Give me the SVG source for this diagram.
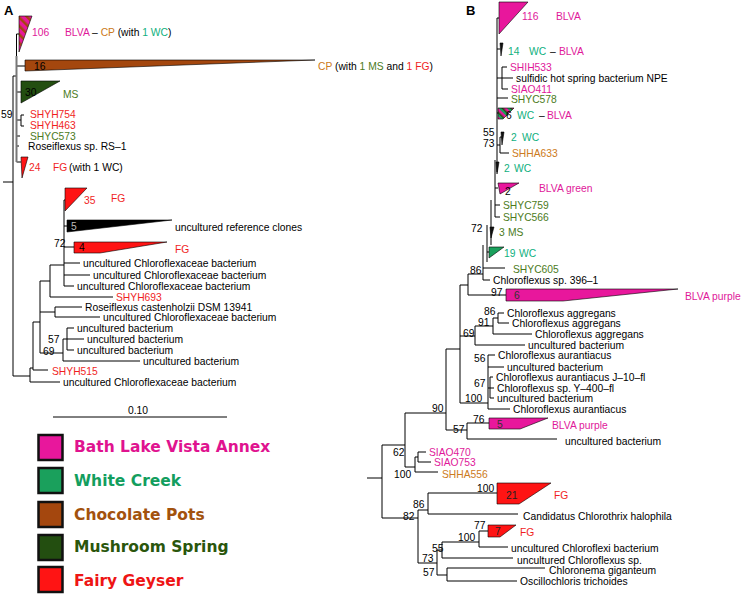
<svg xmlns="http://www.w3.org/2000/svg" width="744" height="595" viewBox="0 0 744 595">
<defs>
<pattern id="hA" patternUnits="userSpaceOnUse" width="6" height="6" patternTransform="rotate(-45)">
<rect width="6" height="6" fill="#e8179c"/><rect width="2.5" height="6" fill="#a4470e"/>
</pattern>
<pattern id="hB" patternUnits="userSpaceOnUse" width="6" height="6" patternTransform="rotate(-45)">
<rect width="6" height="6" fill="#e8179c"/><rect width="2" height="6" fill="#1aa05c"/><rect x="2" width="1.5" height="6" fill="#234e10"/>
</pattern>
<style>
text{font-family:"Liberation Sans",Arial,sans-serif;font-size:10.3px;fill:#000}
.m{fill:#e0189a}.r{fill:#f01e1e}.g{fill:#0fb07e}.ms{fill:#4b7b1b}.o{fill:#cc7a20}.k{fill:#000}
.lab{font-weight:bold;font-size:13px}
.lg{font-family:"DejaVu Sans",Verdana,sans-serif;font-weight:bold;font-size:15.5px}
.br{fill:none;stroke:#000;stroke-width:1}
.tri{stroke:#000;stroke-width:0.6}
.box{stroke:#111;stroke-width:2.5}
</style>
</defs>
<rect width="744" height="595" fill="#fff"/>
<g id="connectors">
<path class="br" d="M3,182H13M13,76V376M13,76H16.5M16.5,34V66M16.5,34H19M16.5,66H25M16.5,92H21M16.5,120H21M21,115V126M21,115H24M21,126H24M16.5,136H20M16.5,146H19M16.5,162H21"/>
<path d="M16.5,56V162" fill="none" stroke="#777" stroke-width="2"/>
<path class="br" d="M13,376H30M30,368V382M30,382H60M30,368H33M33,322V370M33,370H48M33,322H40M40,281V353M40,281H50M50,265V297M50,297H113M50,265H64M64,200V286M64,200H65M64,226H67M64,247H74M64,263H80M64,275H90M64,286H74M40,312H55M55,307V317M55,307H82M55,317H100M40,353H63M63,339V361M63,361H140M63,339H67M67,328V350M67,328H74M67,339H84M67,350H74"/>
<path class="br" d="M497,18V172M497,18H499M497,49H500M497,78H502M502,67V89M502,67H507M502,78H513M502,89H508M497,98H508M497,113H498M497,145H500M500,137V153M500,137H502M500,153H509M495,160V217M495,188H498M495,205H500M495,217H500M491,200V245M491,232H491M487,225V262M487,252H489M483,245V280M483,268H505M483,280H490M468,274H483M460,285H468M468,274V295M468,295H506M460,285V403M460,336H475M475,326V345M475,326H493M493,318V334M493,318H498M498,313V323M498,313H504M498,323H509M493,334H532M475,345H525M460,403H488M488,355V409M488,355H495M488,367H504M488,388H490M490,377V398M490,377H493M490,388H494M490,398H494M488,409H510M446,349V430M446,349H460M405,413H446M446,430H467M467,423V439M467,423H489M467,439H557M405,413V467M382,445H405M405,467H415M415,457V472M415,457H418M418,452V462M418,452H426M418,462H431M415,472H438M367,478H382M382,445V518M382,518H418M418,510V563M418,510H428M428,493V514M428,493H497M428,514H518M418,563H437M437,550V575M437,550H442M442,542V558M442,542H479M479,531V547M479,531H488M479,547H508M442,558H513M437,575H447M447,568V581M447,568H545M447,581H517"/>
</g>
<text class="lab" x="4" y="15">A</text>
<text class="lab" x="466" y="15">B</text>
<g id="a-blva-cp"><polygon class="tri" points="19,16 32,16 19,52" fill="url(#hA)"/><text x="32" y="36" class="m">106</text><text x="65" y="36"><tspan class="m">BLVA</tspan> – <tspan class="o">CP</tspan> (with <tspan class="g">1 WC</tspan>)</text></g>
<g id="a-cp"><polygon class="tri" points="25,60 315,60 25,71" fill="#a4470e"/><text x="34" y="70">16</text><text x="318" y="70"><tspan class="o">CP</tspan> (with <tspan class="ms">1 MS</tspan> and <tspan class="r">1 FG</tspan>)</text></g>
<g id="a-ms"><polygon class="tri" points="21,81 60,81 21,103" fill="#234e10"/><text x="25" y="96">30</text><text x="63" y="98" class="ms">MS</text></g>
<g id="a-leaves1"><text x="1" y="118">59</text><text x="30" y="118" class="r">SHYH754</text><text x="30" y="129" class="r">SHYH463</text><text x="30" y="140" class="ms">SHYC573</text><text x="28" y="150">Roseiflexus sp. RS–1</text></g>
<g id="a-fg24"><polygon class="tri" points="21,157 28,157 22,178" fill="#ff1414"/><text x="29" y="171" class="r">24</text><text x="53" y="171" class="r">FG</text><text x="69" y="171">(with 1 WC)</text></g>
<g id="a-fg35"><polygon class="tri" points="65,188 87,188 65,211" fill="#ff1414"/><text x="84" y="204" class="r">35</text><text x="111" y="202" class="r">FG</text></g>
<g id="a-ref"><polygon class="tri" points="67,220 172,220 67,232" fill="#000"/><text x="71" y="230" style="fill:#bbb">5</text><text x="175" y="231">uncultured reference clones</text></g>
<g id="a-fg4"><polygon class="tri" points="74,242 167,242 100,253 74,253" fill="#ff1414"/><text x="79" y="251">4</text><text x="175" y="253" class="r">FG</text><text x="54" y="247">72</text></g>
<g id="a-leaves2">
<text x="83" y="267">uncultured Chloroflexaceae bacterium</text>
<text x="93" y="279">uncultured Chloroflexaceae bacterium</text>
<text x="77" y="290">uncultured Chloroflexaceae bacterium</text>
<text x="116" y="301" class="r">SHYH693</text>
<text x="85" y="311">Roseiflexus castenholzii DSM 13941</text>
<text x="103" y="321">uncultured Chloroflexaceae bacterium</text>
<text x="77" y="332">uncultured bacterium</text>
<text x="87" y="343">uncultured bacterium</text>
<text x="77" y="354">uncultured bacterium</text>
<text x="143" y="365">uncultured bacterium</text>
<text x="48" y="343">57</text><text x="43" y="355">69</text>
<text x="52" y="375" class="r">SHYH515</text>
<text x="63" y="386">uncultured Chloroflexaceae bacterium</text>
</g>
<g id="scale"><path class="br" d="M53,417H227"/><text x="138" y="414" text-anchor="middle">0.10</text></g>
<g id="legend">
<rect class="box" x="38.5" y="435" width="24" height="25" fill="#e8179c"/><text class="lg" x="74" y="452" style="fill:#e0138f">Bath Lake Vista Annex</text>
<rect class="box" x="38.5" y="468" width="24" height="25" fill="#1aa05c"/><text class="lg" x="74" y="486" style="fill:#139e5e">White Creek</text>
<rect class="box" x="38.5" y="502" width="24" height="25" fill="#a4470e"/><text class="lg" x="74" y="520" style="fill:#a2520e">Chocolate Pots</text>
<rect class="box" x="38.5" y="535" width="24" height="25" fill="#234e10"/><text class="lg" x="74" y="552" style="fill:#2a560c">Mushroom Spring</text>
<rect class="box" x="38.5" y="567" width="24" height="25" fill="#ff1414"/><text class="lg" x="74" y="586" style="fill:#ee1515">Fairy Geyser</text>
</g>
<g id="b-116"><polygon class="tri" points="499,2 528,2 499,34" fill="#e8179c"/><text x="522" y="20" class="m">116</text><text x="556" y="20" class="m">BLVA</text></g>
<g id="b-14"><polygon class="tri" points="500,43 503,43 501,56" fill="#111"/><text y="55"><tspan x="508" class="g">14</tspan><tspan x="529" class="g">WC</tspan><tspan x="550">–</tspan><tspan x="559" class="m">BLVA</tspan></text></g>
<g id="b-leaves1"><text x="510" y="71" class="m">SHIH533</text><text x="516" y="82">sulfidic hot spring bacterium NPE</text><text x="511" y="93" class="m">SIAO411</text><text x="511" y="103" class="ms">SHYC578</text></g>
<g id="b-6"><polygon class="tri" points="498,108 514,108 503,119 498,119" fill="url(#hB)"/><text x="506" y="119">6</text><text y="119"><tspan x="517" class="g">WC</tspan><tspan x="539">–</tspan><tspan x="547" class="m">BLVA</tspan></text></g>
<g id="b-2wc"><polygon class="tri" points="501,132 504,132 502,145" fill="#111"/><text x="483" y="136">55</text><text x="483" y="147">73</text><text y="141"><tspan x="511" class="g">2</tspan><tspan x="522" class="g">WC</tspan></text><text x="512" y="157" class="o">SHHA633</text></g>
<g id="b-2wc2"><polygon class="tri" points="496,162 499,162 497,174" fill="#111"/><text y="172"><tspan x="504" class="g">2</tspan><tspan x="514" class="g">WC</tspan></text></g>
<g id="b-green"><polygon class="tri" points="498,183 519,183 500,194" fill="#e8179c"/><text x="505" y="195">2</text><text x="539" y="192" class="m">BLVA green</text></g>
<g id="b-leaves2"><text x="503" y="209" class="ms">SHYC759</text><text x="503" y="221" class="ms">SHYC566</text><text x="471" y="232">72</text></g>
<g id="b-3ms"><polygon class="tri" points="490,227 494,227 491,238" fill="#111"/><text y="236"><tspan x="499" class="ms">3</tspan><tspan x="508" class="ms">MS</tspan></text></g>
<g id="b-19wc"><polygon class="tri" points="489,247 504,247 489,258" fill="#1aa05c"/><text y="257"><tspan x="504" class="g">19</tspan><tspan x="519" class="g">WC</tspan></text></g>
<g id="b-leaves3"><text x="470" y="274">86</text><text x="513" y="273" class="ms">SHYC605</text><text x="493" y="284">Chloroflexus sp. 396–1</text><text x="491" y="296">97</text></g>
<g id="b-purple6"><polygon class="tri" points="506,289 678,289 563,301 506,301" fill="#e8179c"/><text x="514" y="299" style="fill:#333">6</text><text x="685" y="300" class="m">BLVA purple</text></g>
<g id="b-aggregans">
<text x="484" y="315">86</text><text x="507" y="317">Chloroflexus aggregans</text>
<text x="478" y="326">91</text><text x="512" y="327">Chloroflexus aggregans</text>
<text x="463" y="337">69</text><text x="535" y="338">Chloroflexus aggregans</text>
<text x="528" y="349">uncultured bacterium</text>
</g>
<g id="b-aurantiacus">
<text x="474" y="362">56</text><text x="498" y="359">Chloroflexus aurantiacus</text>
<text x="507" y="371">uncultured bacterium</text>
<text x="474" y="387">67</text><text x="496" y="381">Chloroflexus aurantiacus J–10–fl</text>
<text x="497" y="392">Chloroflexus sp. Y–400–fl</text>
<text x="465" y="402">100</text><text x="497" y="402">uncultured bacterium</text>
<text x="513" y="413">Chloroflexus aurantiacus</text>
<text x="432" y="412">90</text>
</g>
<g id="b-purple5"><polygon class="tri" points="489,418 548,418 520,429 489,429" fill="#e8179c"/><text x="497" y="428" style="fill:#333">5</text><text x="552" y="429" class="m">BLVA purple</text><text x="473" y="423">76</text><text x="453" y="433">57</text><text x="565" y="445">uncultured bacterium</text></g>
<g id="b-siao"><text x="393" y="456">62</text><text x="429" y="456" class="m">SIAO470</text><text x="434" y="466" class="m">SIAO753</text><text x="442" y="478" class="o">SHHA556</text><text x="394" y="478">100</text></g>
<g id="b-fg21"><polygon class="tri" points="497,483 551,483 519,504 497,504" fill="#ff1414"/><text x="506" y="499" style="fill:#222">21</text><text x="554" y="499" class="r">FG</text><text x="477" y="492">100</text></g>
<g id="b-leaves4"><text x="413" y="508">86</text><text x="403" y="520">82</text><text x="523" y="520">Candidatus Chlorothrix halophila</text></g>
<g id="b-fg7"><polygon class="tri" points="488,525 516,525 500,537 488,537" fill="#ff1414"/><text x="495" y="535" style="fill:#222">7</text><text x="520" y="536" class="r">FG</text><text x="474" y="529">77</text><text x="458" y="541">100</text></g>
<g id="b-leaves5">
<text x="511" y="552">uncultured Chloroflexi bacterium</text><text x="432" y="552">55</text>
<text x="517" y="564">uncultured Chloroflexus sp.</text><text x="422" y="562">73</text>
<text x="423" y="576">57</text><text x="549" y="574">Chloronema giganteum</text>
<text x="520" y="585">Oscillochloris trichoides</text>
</g>
</svg>
